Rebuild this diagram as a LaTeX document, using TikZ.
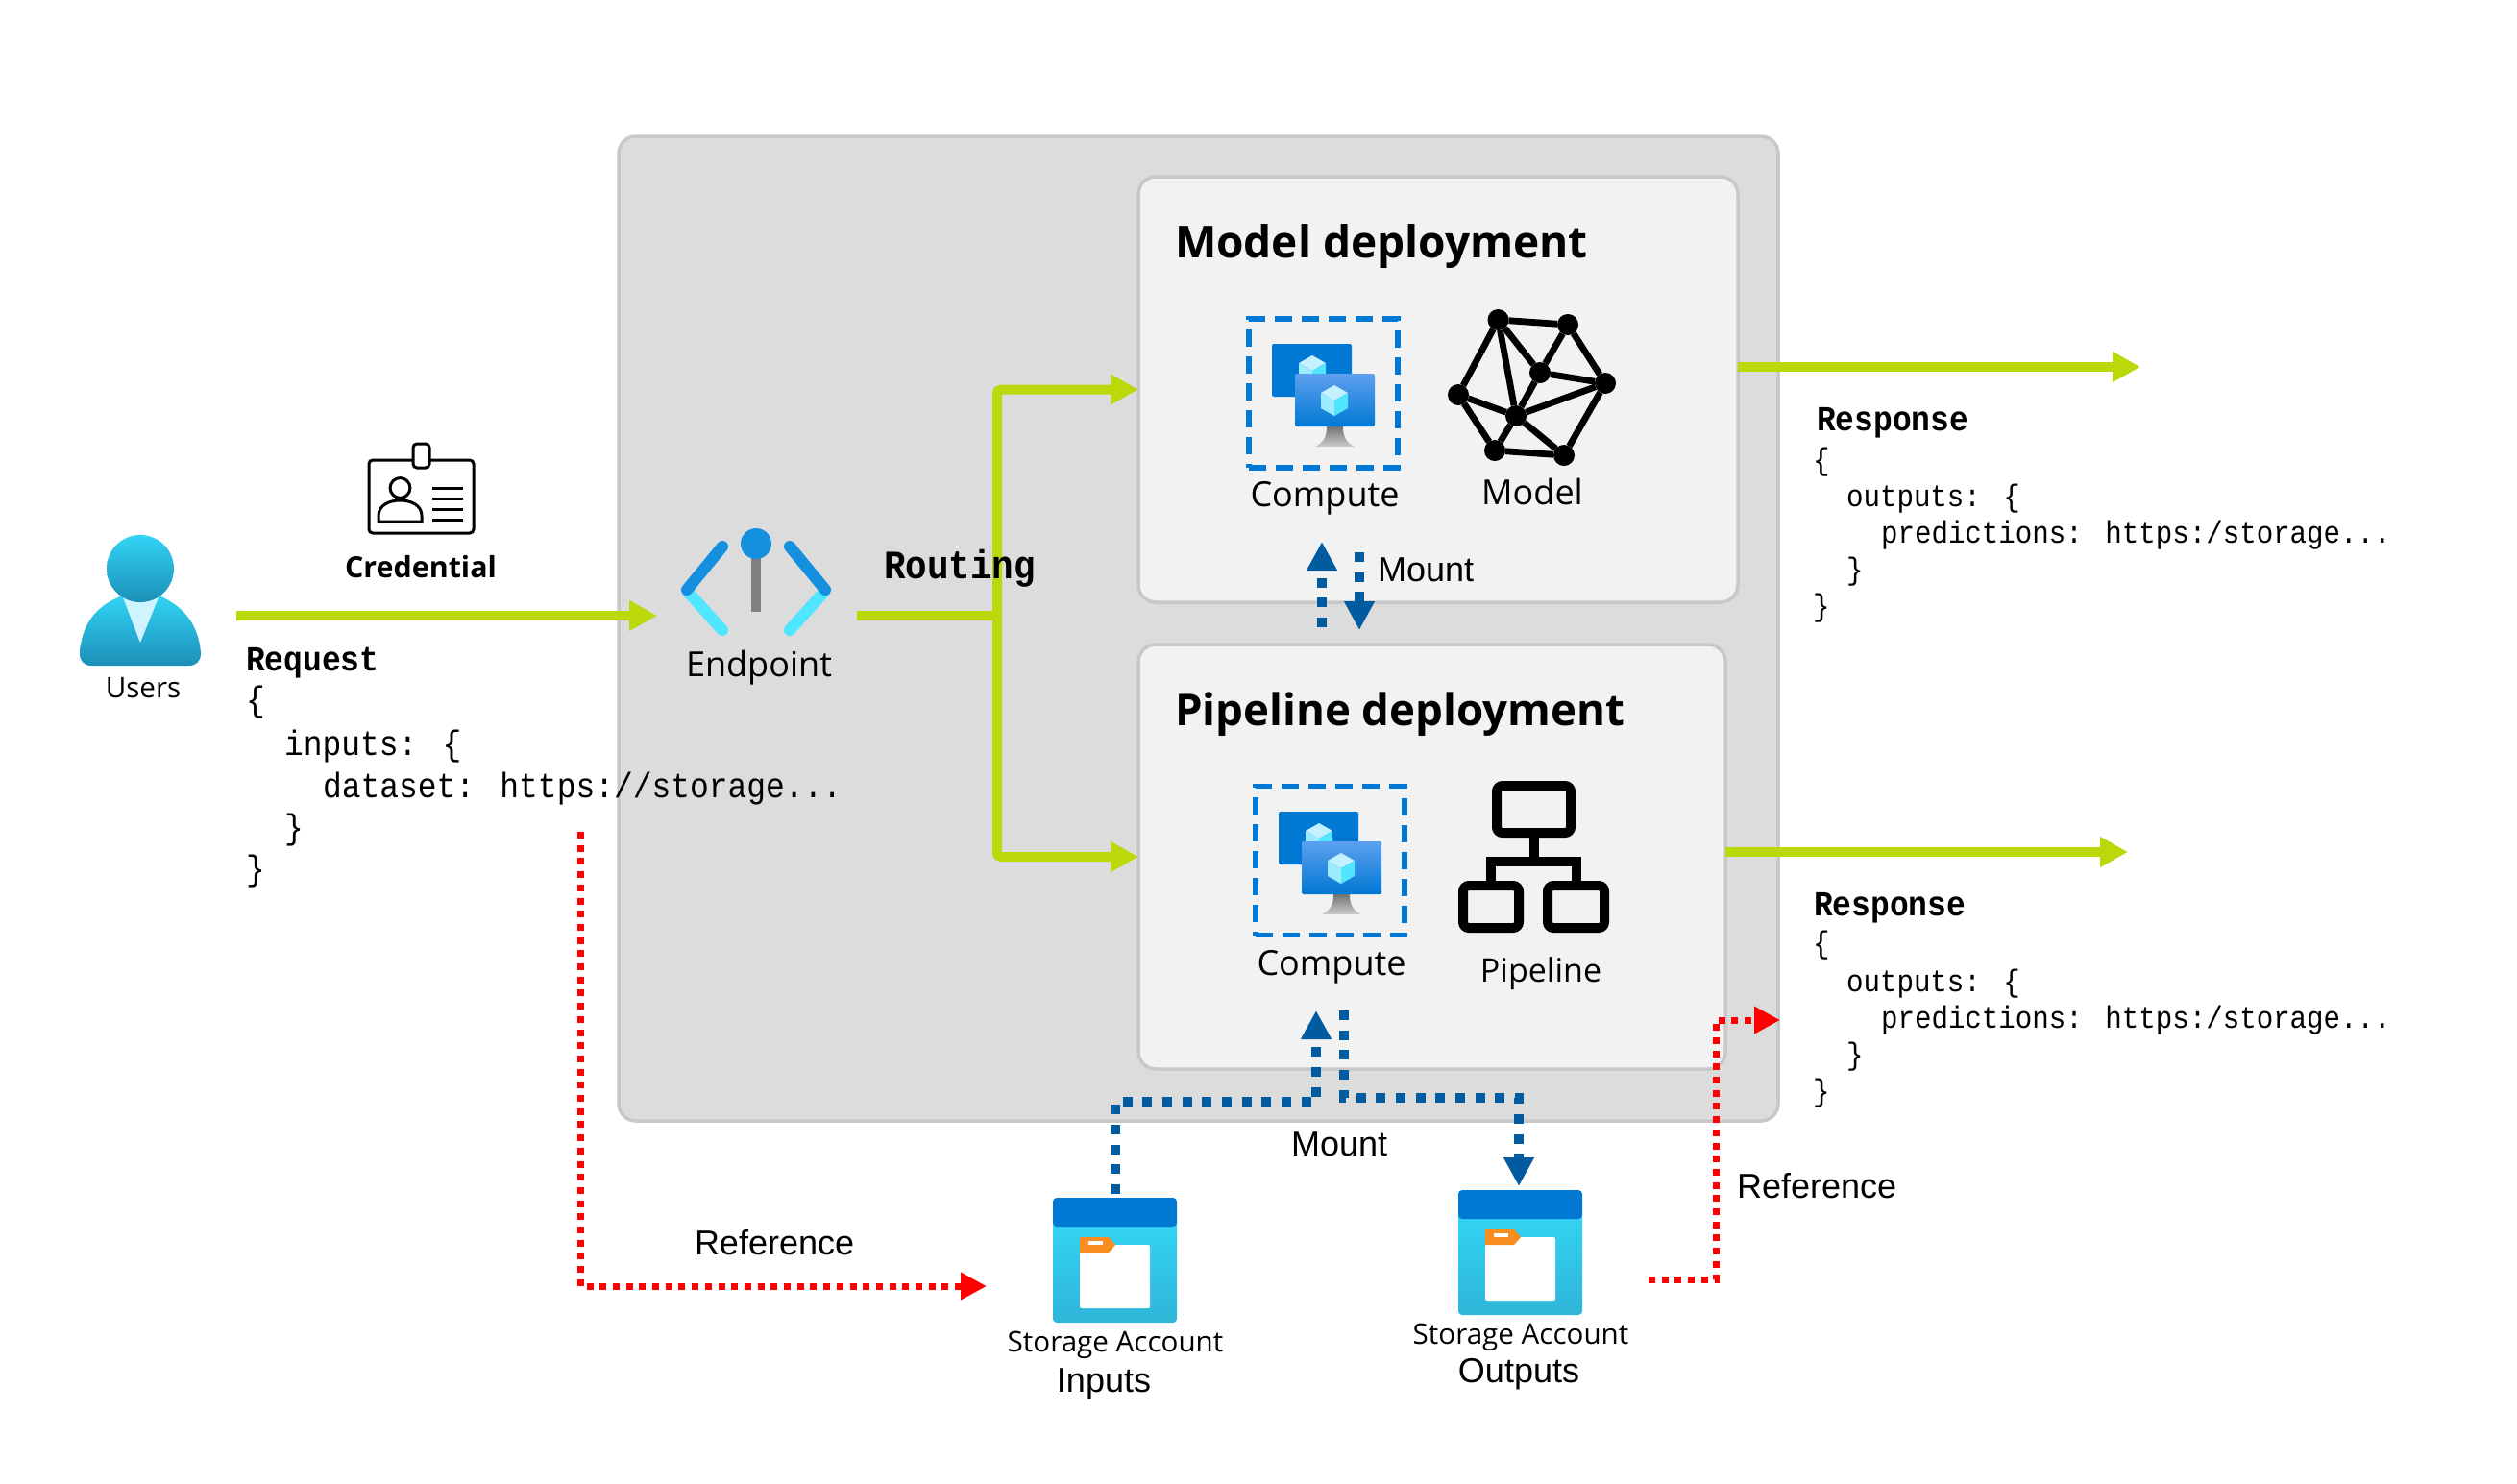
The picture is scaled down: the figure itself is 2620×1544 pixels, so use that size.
\documentclass[tikz,border=0pt]{standalone}
\usepackage{fontspec}
\setmainfont{Open Sans}
\newfontfamily\arialf{Liberation Sans}
\newfontfamily\monof[FakeStretch=0.9]{Liberation Mono}
\usetikzlibrary{arrows.meta,calc,shapes.geometric}
\definecolor{grnline}{HTML}{BAD80A}
\definecolor{bluedot}{HTML}{005BA1}
\definecolor{azure}{HTML}{0078D4}
\definecolor{edgegray}{HTML}{C8C8C8}
\definecolor{panelgray}{HTML}{DCDCDC}
\definecolor{panellight}{HTML}{F2F2F2}
\definecolor{cyanA}{HTML}{32D4F5}
\definecolor{cyanB}{HTML}{1B8FB8}
\definecolor{cyanC}{HTML}{2FB5D8}
\definecolor{cubeA}{HTML}{C3F1FF}
\definecolor{cubeB}{HTML}{9CEBFF}
\definecolor{cubeC}{HTML}{50E6FF}
\definecolor{moniTop}{HTML}{5EA0EF}
\definecolor{pinblue}{HTML}{1490DF}
\definecolor{tagorange}{HTML}{F78D1E}
\tikzset{
  x=0.5pt,y=-0.5pt,
  txt/.style={inner sep=0pt,outer sep=0pt,anchor=base},
  txtl/.style={inner sep=0pt,outer sep=0pt,anchor=base west},
  seg/.style={font=\fontsize{18pt}{22pt}\selectfont},
  segsmall/.style={font=\fontsize{14.8pt}{18pt}\selectfont},
  ari/.style={font=\arialf\fontsize{18pt}{22pt}\selectfont},
  titletxt/.style={font=\bfseries\fontsize{23pt}{28pt}\selectfont},
  codeb/.style={font=\monof\bfseries\fontsize{18.3pt}{22pt}\selectfont},
  codea/.style={font=\monof\fontsize{18.3pt}{22pt}\selectfont},
  coder/.style={font=\monof\fontsize{16.2pt}{20pt}\selectfont},
  coderb/.style={font=\monof\bfseries\fontsize{18.3pt}{22pt}\selectfont},
  outerpanel/.style={draw=edgegray,fill=panelgray,line width=1.75pt,rounded corners=9pt,inner sep=0pt,outer sep=0pt},
  deppanel/.style={draw=edgegray,fill=panellight,line width=1.75pt,rounded corners=9pt,inner sep=0pt,outer sep=0pt},
  computebox/.style={draw=azure,line width=2.8pt,dash pattern=on 9pt off 5pt,minimum width=77.5pt,minimum height=77.5pt,inner sep=0pt,outer sep=0pt},
  grn/.style={draw=grnline,line width=5pt,-{Triangle[length=14.5pt,width=15pt]}},
  grnplain/.style={draw=grnline,line width=5pt},
  blu/.style={draw=bluedot,line width=5pt,dash pattern=on 5pt off 5.35pt,-{Triangle[length=15pt,width=15pt]}},
  redd/.style={draw=red,line width=3.5pt,dash pattern=on 3.5pt off 3.35pt,-{Triangle[length=13.5pt,width=13.5pt]}},
  netdot/.style={circle,fill=black,minimum size=11pt,inner sep=0pt,outer sep=0pt},
  netedge/.style={draw=black,line width=3.4pt},
  pipebox/.style={draw=black,line width=5pt,rounded corners=3pt,inner sep=0pt,outer sep=0pt},
  pipeline/.style={draw=black,line width=5pt},
  iconslot/.style={inner sep=0pt,outer sep=0pt},
}
\newcommand{\cubeicon}[2]{%
  \fill[cubeA] (#1,#2-16) -- (#1+14,#2-8) -- (#1,#2) -- (#1-14,#2-8) -- cycle;
  \fill[cubeB] (#1-14,#2-8) -- (#1,#2) -- (#1,#2+16) -- (#1-14,#2+8) -- cycle;
  \fill[cubeC] (#1+14,#2-8) -- (#1,#2) -- (#1,#2+16) -- (#1+14,#2+8) -- cycle;
}
\newcommand{\monitorpair}{%
  \fill[azure,rounded corners=1pt] (1324,358) rectangle (1407,413);
  \cubeicon{1366}{386}
  \shade[top color=moniTop,bottom color=azure,rounded corners=1pt] (1348,389) rectangle (1431,444);
  \shade[top color=gray!90!black,bottom color=gray!40] (1381,444) -- (1398,444) .. controls (1398,456) and (1402,461) .. (1410,465) -- (1369,465) .. controls (1377,461) and (1381,456) .. (1381,444) -- cycle;
  \cubeicon{1389}{417}
}
\newcommand{\storageicon}{%
  \shade[top color=cyanA,bottom color=cyanC,rounded corners=2pt] (1096,1270) rectangle (1225,1377);
  \fill[azure,rounded corners=2pt] (1096,1247) -- (1225,1247) -- (1225,1277) -- (1096,1277) -- cycle;
  \fill[white,rounded corners=1pt] (1124,1296) rectangle (1197,1362);
  \fill[tagorange] (1124,1288) -- (1154,1288) -- (1161,1296) -- (1154,1304) -- (1124,1304) -- cycle;
  \fill[white] (1133,1292) rectangle (1148,1296);
}
\begin{document}
\begin{tikzpicture}
\useasboundingbox (0,0) rectangle (2620,1544);
\fill[white] (0,0) rectangle (2620,1544);

% panels
\node[outerpanel,minimum width=603.5pt,minimum height=512.5pt] (outer) at (1247.5,654.5) {};
\node[deppanel,minimum width=312pt,minimum height=221.5pt] (modelpanel) at (1497,405.5) {};
\node[deppanel,minimum width=305.5pt,minimum height=221pt] (pipepanel) at (1490.5,892) {};

% user icon
\node[iconslot,minimum width=63pt,minimum height=54pt] (users) at (146,639) {};
\shade[top color=cyanA,bottom color=cyanB]
  (96,693) .. controls (87,693) and (83,688) .. (83,680)
  .. controls (85,650) and (100,630) .. (128,620) -- (165,620)
  .. controls (190,630) and (207,650) .. (209,680)
  .. controls (209,688) and (205,693) .. (196,693) -- cycle;
\fill[cubeA!80!white] (128,622) -- (165,622) -- (146,669) -- cycle;
\shade[top color=cyanA,bottom color=cyanB] (146,592) circle[radius=17.5pt];

% credential icon
\node[iconslot,draw=black,line width=1.5pt,rounded corners=2pt,fill=white,minimum width=54.5pt,minimum height=38pt] (card) at (438.5,517) {};
\draw[black,line width=1.5pt,fill=white,rounded corners=2pt] (430,462) rectangle (447,487);
\draw[black,line width=1.5pt] (416.5,508) circle[radius=5.2pt];
\draw[black,line width=1.5pt] (394,543) -- (394,537) .. controls (394,526) and (405,521) .. (416.5,521) .. controls (428,521) and (439,526) .. (439,537) -- (439,543) -- cycle;
\foreach \yy in {508,519,530,541} \draw[black,line width=1.5pt] (450,\yy) -- (482,\yy);

% endpoint icon
\node[iconslot,minimum width=77pt,minimum height=48pt] (endp) at (787,612) {};
\draw[cubeC,line width=6pt,line cap=round] (716,616) -- (752,656);
\draw[pinblue,line width=6pt,line cap=round] (752,569) -- (715,614);
\draw[cubeC,line width=6pt,line cap=round] (858,616) -- (822,656);
\draw[pinblue,line width=6pt,line cap=round] (822,569) -- (859,614);
\fill[gray] (782,578) rectangle (792,637);
\fill[pinblue] (787,566) circle[radius=8pt];

% compute icons
\node[computebox] (compA) at (1377.5,409.5) {};
\monitorpair
\node[computebox] (compB) at (1384.5,896) {};
\begin{scope}[shift={(7,487)}]
\monitorpair
\end{scope}

% model network
\node[netdot] (nA) at (1559.5,333) {};
\node[netdot] (nB) at (1632,338) {};
\node[netdot] (nC) at (1603,388) {};
\node[netdot] (nD) at (1671,399) {};
\node[netdot] (nE) at (1518,411) {};
\node[netdot] (nF) at (1578,433) {};
\node[netdot] (nG) at (1556,469) {};
\node[netdot] (nH) at (1628,474) {};
\foreach \aa/\bb in {nA/nB,nA/nE,nA/nF,nA/nC,nB/nC,nB/nD,nC/nD,nC/nF,nD/nF,nD/nH,nE/nF,nE/nG,nF/nG,nF/nH,nG/nH}
  \draw[netedge] (\aa) -- (\bb);

% pipeline icon
\node[pipebox,minimum width=38.5pt,minimum height=24.5pt] (pTop) at (1596.5,842.5) {};
\node[pipebox,minimum width=29pt,minimum height=22pt] (pL) at (1552,944) {};
\node[pipebox,minimum width=29.5pt,minimum height=22pt] (pR) at (1640.5,944) {};
\coordinate (pBus) at (1596.5,897);
\draw[pipeline] (pTop.south) -- (pBus);
\draw[pipeline] (pL.north) |- (pBus);
\draw[pipeline] (pR.north) |- (pBus);

% storage icons
\node[iconslot,minimum width=64.5pt,minimum height=65pt] (stIn) at (1160.5,1312) {};
\storageicon
\node[iconslot,minimum width=64.5pt,minimum height=65pt] (stOut) at (1582.5,1304) {};
\begin{scope}[shift={(422,-8)}]
\storageicon
\end{scope}

% green connectors
\coordinate (userOut) at (246,641);
\coordinate (epIn) at (684,641);
\coordinate (epOut) at (892,641);
\coordinate (junc) at (1038,641);
\coordinate (mOut) at (1809,382);
\coordinate (mEnd) at (2228,382);
\coordinate (pOut) at (1796,887);
\coordinate (pEnd) at (2215,887);
\draw[grn] (userOut) -- (epIn);
\draw[grnplain] (epOut) -- (junc);
\draw[grn,rounded corners=2pt] (junc) |- (modelpanel.west);
\draw[grn,rounded corners=2pt] (junc) |- (pipepanel.west);
\draw[grn] (mOut) -- (mEnd);
\draw[grn] (pOut) -- (pEnd);

% blue mount connectors
\coordinate (upS) at (1376,653);
\coordinate (upE) at (1376,564);
\coordinate (dnS) at (1415,575);
\coordinate (dnE) at (1415,656);
\draw[blu] (upS) -- (upE);
\draw[blu] (dnS) -- (dnE);
\coordinate (biS) at (1161,1243);
\coordinate (biC) at (1370,1147);
\coordinate (biE) at (1370,1052);
\draw[blu] (biS) |- (biC) -- (biE);
\coordinate (boS) at (1399,1052);
\coordinate (boC) at (1581,1143);
\coordinate (boE) at (1581,1235);
\draw[blu] (boS) |- (boC) -- (boE);

% red reference connectors
\coordinate (raS) at (604,866);
\coordinate (raC) at (604,1339);
\coordinate (raE) at (1027,1339);
\draw[redd] (raS) -- (raC) -- (raE);
\coordinate (rbS) at (1716,1332);
\coordinate (rbC) at (1786,1332);
\coordinate (rbD) at (1786,1062);
\coordinate (rbE) at (1853,1062);
\draw[redd] (rbS) -- (rbC) -- (rbD) -- (rbE);

% labels
\node[txt,segsmall] (tUsers) at (149,726) {Users};
\node[txt,font=\bfseries\fontsize{15.2pt}{18pt}\selectfont] (tCred) at (438,601) {Credential};
\node[txt,seg] (tEndp) at (790,704) {Endpoint};
\node[txtl,font=\monof\bfseries\fontsize{20.9pt}{25pt}\selectfont] (tRout) at (920,602) {Routing};
\node[txtl,titletxt] (tModel) at (1223,268) {Model deployment};
\node[txtl,font=\bfseries\fontsize{22.8pt}{28pt}\selectfont] (tPipe) at (1223,755) {Pipeline deployment};
\node[txt,seg] (tCompA) at (1379,527) {Compute};
\node[txt,seg] (tCompB) at (1386,1015) {Compute};
\node[txt,seg] (tModelI) at (1595,525) {Model};
\node[txt,font=\fontsize{17pt}{22pt}\selectfont] (tPipeI) at (1604,1022) {Pipeline};
\node[txtl,ari] (tMountA) at (1434,605) {Mount};
\node[txtl,ari] (tMountB) at (1344,1203) {Mount};
\node[txtl,ari] (tRefA) at (723,1306) {Reference};
\node[txtl,ari] (tRefB) at (1808,1247) {Reference};
\node[txt,segsmall] (tStIn) at (1161,1407) {Storage Account};
\node[txt,segsmall] (tStOut) at (1583,1399) {Storage Account};
\node[txt,ari] (tIn) at (1149,1449) {Inputs};
\node[txt,ari] (tOut) at (1581,1439) {Outputs};

% request code
\node[txtl,codeb] (rq0) at (256,698) {Request};
\node[txtl,codea] (rq1) at (256,740) {\{};
\node[txtl,codea] (rq2) at (296,786) {inputs: \{};
\node[txtl,codea] (rq3) at (336,830) {dataset: https://storage...};
\node[txtl,codea] (rq4) at (296,873) {\}};
\node[txtl,codea] (rq5) at (256,916) {\}};

% response A
\node[txtl,coderb] (ra0) at (1891,448) {Response};
\node[txtl,coder] (ra1) at (1887,489) {\{};
\node[txtl,coder] (ra2) at (1922,527) {outputs: \{};
\node[txtl,coder] (ra3) at (1958,565) {predictions: https:/storage...};
\node[txtl,coder] (ra4) at (1922,603) {\}};
\node[txtl,coder] (ra5) at (1887,641) {\}};

% response B
\node[txtl,coderb] (rb0) at (1888,953) {Response};
\node[txtl,coder] (rb1) at (1887,992) {\{};
\node[txtl,coder] (rb2) at (1922,1032) {outputs: \{};
\node[txtl,coder] (rb3) at (1958,1070) {predictions: https:/storage...};
\node[txtl,coder] (rb4) at (1922,1108) {\}};
\node[txtl,coder] (rb5) at (1887,1146) {\}};
\end{tikzpicture}
\end{document}
